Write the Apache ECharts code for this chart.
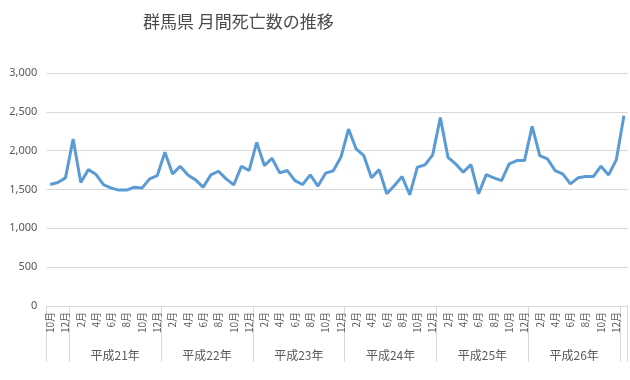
<!DOCTYPE html>
<html><head><meta charset="utf-8">
<script src="https://cdn.jsdelivr.net/npm/echarts@6/dist/echarts.min.js"></script>
<style>html,body{margin:0;padding:0;background:#fff}#c{width:630px;height:380px}</style>
</head><body><div id="c"></div>
<script>
// Months from 平成20年10月 to 平成27年1月
const months = ["10月","11月","12月",
 "1月","2月","3月","4月","5月","6月","7月","8月","9月","10月","11月","12月",
 "1月","2月","3月","4月","5月","6月","7月","8月","9月","10月","11月","12月",
 "1月","2月","3月","4月","5月","6月","7月","8月","9月","10月","11月","12月",
 "1月","2月","3月","4月","5月","6月","7月","8月","9月","10月","11月","12月",
 "1月","2月","3月","4月","5月","6月","7月","8月","9月","10月","11月","12月",
 "1月","2月","3月","4月","5月","6月","7月","8月","9月","10月","11月","12月",
 "1月"];
const years = ["平成20年",
 "平成21年","平成22年","平成23年","平成24年","平成25年","平成26年","平成27年"];
const deaths = [1564,1590,1650,
 2150,1590,1756,1692,1560,1518,1492,1492,1530,1518,1637,1680,
 1979,1701,1800,1688,1624,1530,1688,1735,1637,1560,1800,1744,
 2107,1808,1902,1714,1744,1615,1564,1688,1544,1710,1740,1915,
 2278,2022,1936,1650,1756,1445,1551,1667,1432,1787,1817,1945,
 2428,1915,1830,1723,1820,1445,1692,1650,1615,1830,1872,1872,
 2313,1936,1894,1744,1701,1573,1650,1667,1667,1800,1688,1881,
 2449];
const yTicks = [0,500,1000,1500,2000,2500,3000];

// year index for each category
const yearOf = [];
let y = 0;
months.forEach((m, i) => { if (m === "1月" && i > 0) y++; yearOf.push(years[y]); });

const chart = echarts.init(document.getElementById('c'));
const grey = '#595959';
chart.setOption({
  animation: false,
  title: {
    text: '群馬県 月間死亡数の推移', left: 143, top: 13, padding: 0,
    textStyle: {fontFamily: 'Noto Sans CJK JP', fontSize: 17, fontWeight: 'normal', color: '#4a4a4a'}
  },
  grid: {left: 46.35, right: 2.25, top: 73, bottom: 74, containLabel: false},
  xAxis: [{
    type: 'category', data: months, boundaryGap: true,
    axisLine: {show: true, lineStyle: {color: '#d9d9d9', width: 1}},
    axisTick: {show: false},
    axisLabel: {interval: 1, rotate: 90, margin: 6, fontSize: 10, color: grey, fontFamily: 'Noto Sans CJK JP'}
  }, {
    type: 'category', data: yearOf, boundaryGap: true, position: 'bottom',
    axisLine: {show: false},
    axisTick: {show: true, length: 56, lineStyle: {color: '#d9d9d9', width: 1},
      interval: (i) => i === 0 || months[i] === '1月'},
    axisLabel: {
      interval: (i) => months[i] === '6月',
      margin: 43, fontSize: 12, color: grey, fontFamily: 'Noto Sans CJK JP',
      padding: [0, 0, 0, 7.65]
    }
  }],
  yAxis: {
    type: 'value', min: yTicks[0], max: yTicks[yTicks.length - 1], interval: 500,
    axisLine: {show: false}, axisTick: {show: false},
    splitLine: {lineStyle: {color: '#d9d9d9', width: 1}},
    axisLabel: {margin: 9, fontSize: 11, color: grey, fontFamily: 'Noto Sans',
      formatter: (v) => v.toLocaleString('en-US')}
  },
  series: [{
    type: 'line', data: deaths, xAxisIndex: 0, showSymbol: false, symbol: 'none',
    lineStyle: {color: '#5b9bd5', width: 3}, itemStyle: {color: '#5b9bd5'}
  }]
});
</script></body></html>
